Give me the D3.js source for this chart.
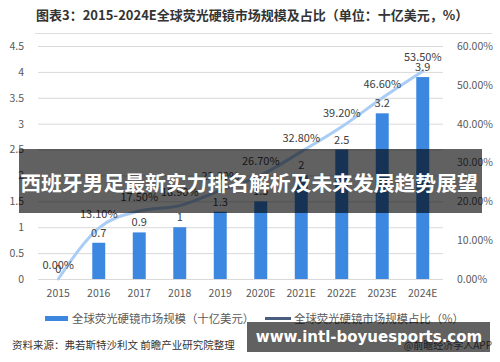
<!DOCTYPE html>
<html>
<head>
<meta charset="utf-8">
<script src="https://cdn.jsdelivr.net/npm/d3@7"></script>
<style>
  body { margin: 0; background: #fff; }
  text { font-family: "Noto Sans CJK SC", "Noto Sans", sans-serif; }
</style>
</head>
<body>
<div id="chart"></div>
<script>
// chart data
const years = ['2015', '2016', '2017', '2018', '2019', '2020E', '2021E', '2022E', '2023E', '2024E'];
const marketSize = [0, 0.7, 0.9, 1, 1.3, 1.5, 2, 2.5, 3.2, 3.9];          // 十亿美元
const marketShare = [0, 13.1, 17.5, 18.9, 22.8, 26.7, 32.8, 39.2, 46.6, 53.5]; // %
const leftTicks = [0, 0.5, 1, 1.5, 2, 2.5, 3, 3.5, 4, 4.5];
const rightTicks = [0, 10, 20, 30, 40, 50, 60];

const titleText = '图表3：2015-2024E全球荧光硬镜市场规模及占比（单位：十亿美元，%）';
const legendBar = '全球荧光硬镜市场规模（十亿美元）';
const legendLine = '全球荧光硬镜市场规模占比（%）';
const sourceText = '资料来源：弗若斯特沙利文 前瞻产业研究院整理';
const brandText = '@前瞻经济学人APP';
const bannerText = '西班牙男足最新实力排名解析及未来发展趋势展望';
const urlText = 'www.intl-boyuesports.com';

const W = 500, H = 362;
const plot = { left: 38, right: 443, top: 46, bottom: 279 };

const svg = d3.select('#chart').append('svg')
  .attr('width', W)
  .attr('height', H);

// title + rule
svg.append('text')
  .attr('x', 36).attr('y', 20)
  .style('font-size', '13px')
  .style('font-weight', 'bold')
  .style('fill', '#333')
  .text(titleText);

svg.append('line')
  .attr('x1', 35).attr('x2', 492)
  .attr('y1', 33.5).attr('y2', 33.5)
  .style('stroke', '#dedede');

// scales
const x = d3.scaleBand()
  .domain(years)
  .range([plot.left, plot.right])
  .paddingInner(0.68)
  .paddingOuter(0.34);

const xc = d => x(d) + x.bandwidth() / 2;

const yL = d3.scaleLinear().domain([0, 4.5]).range([plot.bottom, plot.top]);
const yR = d3.scaleLinear().domain([0, 60]).range([plot.bottom, plot.top]);

// gridlines
svg.append('g')
  .attr('transform', `translate(${plot.left},0)`)
  .call(d3.axisLeft(yL).tickValues(leftTicks).tickSize(-(plot.right - plot.left)).tickFormat(''))
  .call(g => g.select('.domain').remove())
  .selectAll('line')
  .style('stroke', '#d9d9d9');

// left axis labels
svg.append('g')
  .attr('transform', `translate(${plot.left - 11},0)`)
  .call(d3.axisLeft(yL).tickValues(leftTicks).tickSize(0).tickFormat(d => d))
  .call(g => g.select('.domain').remove())
  .selectAll('text')
  .style('font-size', '10.5px')
  .style('fill', '#595959');

// right axis labels
svg.append('g')
  .attr('transform', `translate(${plot.right + 11},0)`)
  .call(d3.axisRight(yR).tickValues(rightTicks).tickSize(0).tickFormat(d => d.toFixed(2) + '%'))
  .call(g => g.select('.domain').remove())
  .selectAll('text')
  .style('font-size', '10.5px')
  .style('fill', '#595959');

// x axis labels
svg.append('g')
  .attr('transform', `translate(0,${plot.bottom + 8})`)
  .call(d3.axisBottom(x).tickSize(0))
  .call(g => g.select('.domain').remove())
  .selectAll('text')
  .style('font-size', '10.5px')
  .style('fill', '#595959');

// bars
svg.selectAll('.bar')
  .data(years)
  .enter().append('rect')
  .attr('class', 'bar')
  .attr('x', d => x(d))
  .attr('width', x.bandwidth())
  .attr('y', (d, i) => yL(marketSize[i]))
  .attr('height', (d, i) => plot.bottom - yL(marketSize[i]))
  .style('fill', '#3c87e0');

// share line (smooth)
const line = d3.line()
  .x((d, i) => xc(years[i]))
  .y(d => yR(d))
  .curve(d3.curveMonotoneX);

svg.append('path')
  .datum(marketShare)
  .attr('d', line)
  .style('fill', 'none')
  .style('stroke', '#a9cdf5')
  .style('stroke-width', 3)
  .style('stroke-linecap', 'round');

// bar value labels
svg.selectAll('.barlbl')
  .data(years)
  .enter().append('text')
  .attr('x', d => xc(d))
  .attr('y', (d, i) => yL(marketSize[i]) - 6)
  .attr('text-anchor', 'middle')
  .style('font-size', '11px')
  .style('fill', '#404040')
  .text((d, i) => marketSize[i]);

// share labels
svg.selectAll('.pctlbl')
  .data(years)
  .enter().append('text')
  .attr('x', d => xc(d))
  .attr('y', (d, i) => yR(marketShare[i]) - 10)
  .attr('text-anchor', 'middle')
  .style('font-size', '11px')
  .style('fill', '#404040')
  .text((d, i) => marketShare[i].toFixed(2) + '%');

// legend
const lg = svg.append('g');
lg.append('rect')
  .attr('x', 45).attr('y', 316)
  .attr('width', 23).attr('height', 5)
  .style('fill', '#3c87e0');
lg.append('text')
  .attr('x', 72).attr('y', 323)
  .style('font-size', '11.4px')
  .style('fill', '#595959')
  .text(legendBar);
lg.append('line')
  .attr('x1', 265).attr('x2', 291)
  .attr('y1', 318.5).attr('y2', 318.5)
  .style('stroke', '#4a5d7e')
  .style('stroke-width', 3);
lg.append('text')
  .attr('x', 294).attr('y', 323)
  .style('font-size', '11.4px')
  .style('fill', '#595959')
  .text(legendLine);

// footer
svg.append('text')
  .attr('x', 12).attr('y', 349)
  .style('font-size', '10.5px')
  .style('fill', '#333')
  .text(sourceText);
svg.append('text')
  .attr('x', 492).attr('y', 349)
  .attr('text-anchor', 'end')
  .style('font-size', '10px')
  .style('fill', '#555')
  .text(brandText);

// overlay banners
svg.append('rect')
  .attr('x', 19).attr('y', 149)
  .attr('width', 463).attr('height', 64)
  .style('fill', 'rgba(0,0,0,0.62)');
svg.append('text')
  .attr('x', 249).attr('y', 191)
  .attr('text-anchor', 'middle')
  .style('font-size', '20.8px')
  .style('font-weight', 'bold')
  .style('fill', '#fff')
  .text(bannerText);

svg.append('rect')
  .attr('x', 247).attr('y', 322)
  .attr('width', 243).attr('height', 30)
  .style('fill', 'rgba(0,0,0,0.62)');
svg.append('text')
  .attr('x', 369).attr('y', 342)
  .attr('text-anchor', 'middle')
  .style('font-family', '"DejaVu Sans", sans-serif')
  .style('font-size', '15px')
  .style('font-weight', 'bold')
  .style('fill', '#fff')
  .text(urlText);
</script>
</body>
</html>
